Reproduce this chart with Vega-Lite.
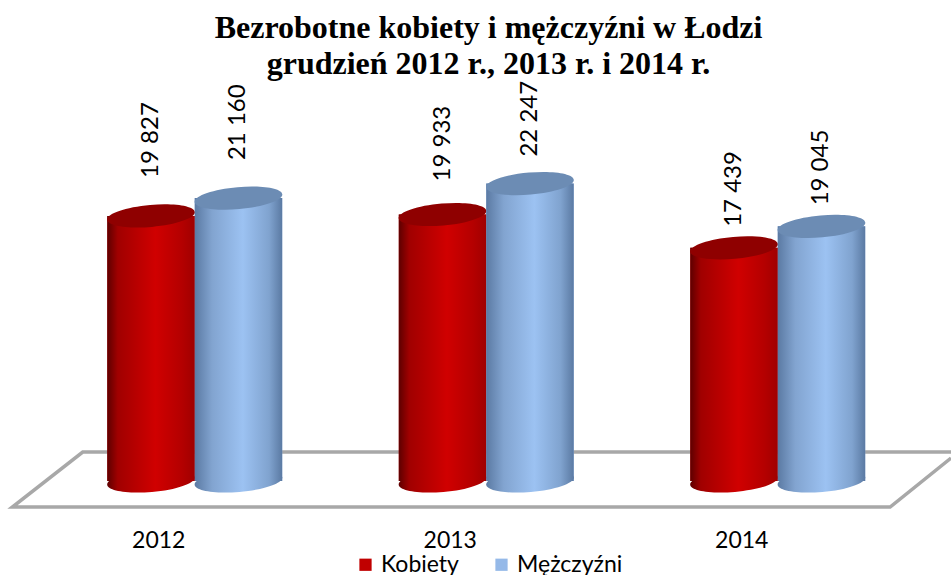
{
"$schema":"https://vega.github.io/schema/vega-lite/v6.json",
"width":951,"height":420,
"autosize":{"type":"none"},
"padding":{"left":0,"right":0,"top":90,"bottom":65},
"background":"white",
"title":{"text":["Bezrobotne kobiety i mężczyźni w Łodzi","grudzień 2012 r., 2013 r. i 2014 r."],"font":"Liberation Serif","fontWeight":"bold","fontSize":32,"lineHeight":36,"color":"black","anchor":"middle","frame":"group","dx":13,"offset":0},
"config":{"view":{"stroke":null}},
"datasets":{
"bars":[
{"year":"2012","series":"Kobiety","value":19827,"label":"19 827"},
{"year":"2012","series":"Mężczyźni","value":21160,"label":"21 160"},
{"year":"2013","series":"Kobiety","value":19933,"label":"19 933"},
{"year":"2013","series":"Mężczyźni","value":22247,"label":"22 247"},
{"year":"2014","series":"Kobiety","value":17439,"label":"17 439"},
{"year":"2014","series":"Mężczyźni","value":19045,"label":"19 045"}],
"floor":[
{"i":1,"fx":100,"fy":2169},
{"i":2,"fx":8.7,"fy":2169},
{"i":3,"fx":1.3,"fy":-1945},
{"i":4,"fx":93.6,"fy":-1945},
{"i":5,"fx":100,"fy":1720}]
},
"resolve":{"scale":{"x":"independent"}},
"layer":[
{"data":{"name":"floor"},"mark":{"type":"line","color":"#a8a8a8","strokeWidth":3.5,"strokeJoin":"miter"},
"encoding":{"x":{"field":"fx","type":"quantitative","scale":{"domain":[0,100],"nice":false},"axis":null},
"y":{"field":"fy","type":"quantitative","scale":{"domain":[-2169,29245],"nice":false,"zero":false},"axis":null},
"order":{"field":"i"}}},
{"data":{"name":"bars"},
"encoding":{
"x":{"field":"year","type":"nominal","scale":{"domain":["2012","2013","2014"],"range":[49,923.5],"paddingInner":0.4,"paddingOuter":0.2},
"axis":{"title":null,"labelAngle":0,"domain":false,"ticks":false,"labelFont":"Lato","labelFontSize":23,"labelColor":"black","labelOffset":-36,"labelPadding":19}},
"xOffset":{"field":"series","type":"nominal","scale":{"domain":["Kobiety","Mężczyźni"],"paddingInner":0,"paddingOuter":0}},
"y":{"field":"value","type":"quantitative","scale":{"domain":[-2169,29245],"nice":false,"zero":false},"axis":null}
},
"layer":[
{"mark":{"type":"bar"},
"encoding":{"color":{"field":"series","type":"nominal","scale":{"domain":["Kobiety","Mężczyźni"],"range":["#c00000","#95b9e8"]},
"legend":{"title":null,"orient":"none","legendX":354,"legendY":463,"direction":"horizontal","symbolType":"square","symbolSize":150,"symbolStrokeWidth":0,"labelFont":"Lato","labelFontSize":23,"labelColor":"black","columnPadding":31,"labelOffset":4,"padding":0}}}},

{"transform":[{"filter":"datum.series==='Kobiety'"}],"mark":{"type":"point","filled":true,"opacity":1,"size":7744,"shape":"M-0.9962,0.0872 A1,0.25 -5 1,0 0.9962,-0.0872 A1,0.25 -5 1,0 -0.9962,0.0872 Z","fill":{"x1":0,"y1":0,"x2":1,"y2":0,"gradient":"linear","stops":[{"offset":0,"color":"#5e0000"},{"offset":0.12,"color":"#a00000"},{"offset":0.55,"color":"#d00000"},{"offset":0.85,"color":"#b40000"},{"offset":1,"color":"#a00000"}]}},"encoding":{"y":{"datum":0}}},
{"transform":[{"filter":"datum.series==='Kobiety'"}],"mark":{"type":"bar","fill":{"x1":0,"y1":0,"x2":1,"y2":0,"gradient":"linear","stops":[{"offset":0,"color":"#5e0000"},{"offset":0.12,"color":"#a00000"},{"offset":0.55,"color":"#d00000"},{"offset":0.85,"color":"#b40000"},{"offset":1,"color":"#a00000"}]}}},
{"transform":[{"filter":"datum.series==='Kobiety'"}],"mark":{"type":"point","filled":true,"opacity":1,"size":7744,"shape":"M-0.9962,0.0872 A1,0.25 -5 1,0 0.9962,-0.0872 A1,0.25 -5 1,0 -0.9962,0.0872 Z","fill":"#8f0000"}},

{"transform":[{"filter":"datum.series==='Mężczyźni'"}],"mark":{"type":"point","filled":true,"opacity":1,"size":7744,"shape":"M-0.9962,0.0872 A1,0.25 -5 1,0 0.9962,-0.0872 A1,0.25 -5 1,0 -0.9962,0.0872 Z","fill":{"x1":0,"y1":0,"x2":1,"y2":0,"gradient":"linear","stops":[{"offset":0,"color":"#5b7aa3"},{"offset":0.2,"color":"#82a4d0"},{"offset":0.55,"color":"#9cc2f2"},{"offset":0.85,"color":"#80a3cf"},{"offset":1,"color":"#5b7aa3"}]}},"encoding":{"y":{"datum":0}}},
{"transform":[{"filter":"datum.series==='Mężczyźni'"}],"mark":{"type":"bar","fill":{"x1":0,"y1":0,"x2":1,"y2":0,"gradient":"linear","stops":[{"offset":0,"color":"#5b7aa3"},{"offset":0.2,"color":"#82a4d0"},{"offset":0.55,"color":"#9cc2f2"},{"offset":0.85,"color":"#80a3cf"},{"offset":1,"color":"#5b7aa3"}]}}},
{"transform":[{"filter":"datum.series==='Mężczyźni'"}],"mark":{"type":"point","filled":true,"opacity":1,"size":7744,"shape":"M-0.9962,0.0872 A1,0.25 -5 1,0 0.9962,-0.0872 A1,0.25 -5 1,0 -0.9962,0.0872 Z","fill":"#6c8cb4"}},

{"transform":[{"filter":"datum.year==='2012'"}],"mark":{"type":"text","angle":270,"align":"left","baseline":"middle","font":"Lato","fontSize":24,"color":"black","yOffset":-38,"xOffset":-2},"encoding":{"text":{"field":"label"}}},
{"transform":[{"filter":"datum.year==='2013' && datum.series==='Kobiety'"}],"mark":{"type":"text","angle":270,"align":"left","baseline":"middle","font":"Lato","fontSize":24,"color":"black","yOffset":-33,"xOffset":-2},"encoding":{"text":{"field":"label"}}},
{"transform":[{"filter":"datum.year==='2013' && datum.series==='Mężczyźni'"}],"mark":{"type":"text","angle":270,"align":"left","baseline":"middle","font":"Lato","fontSize":24,"color":"black","yOffset":-27,"xOffset":-2},"encoding":{"text":{"field":"label"}}},
{"transform":[{"filter":"datum.year==='2014'"}],"mark":{"type":"text","angle":270,"align":"left","baseline":"middle","font":"Lato","fontSize":24,"color":"black","yOffset":-21,"xOffset":-2},"encoding":{"text":{"field":"label"}}}
]}
]
}
